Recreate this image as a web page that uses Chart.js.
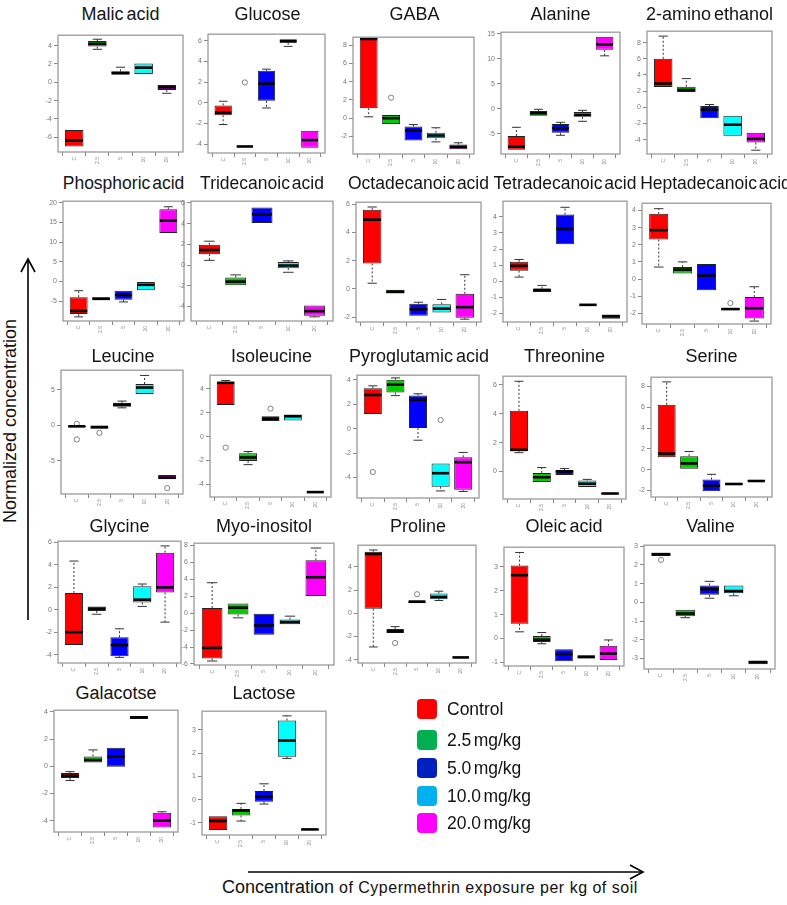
<!DOCTYPE html>
<html><head><meta charset="utf-8">
<script src="https://cdn.jsdelivr.net/npm/chart.js@4.4.1/dist/chart.umd.min.js"></script>
<style>
html,body{margin:0;padding:0;background:#fff;}
body{width:787px;height:905px;overflow:hidden;position:relative;font-family:"Liberation Sans",Arial,sans-serif;}
canvas{position:absolute;}
.t{position:absolute;font-size:18px;color:#151515;white-space:nowrap;transform:translate(-50%,-50%);word-spacing:-2px;line-height:1;}
.t.r2{font-size:17.5px;word-spacing:-3px;}
.lg{position:absolute;width:20px;height:20px;border-radius:4px;}
.lt{position:absolute;font-size:17.5px;color:#111;white-space:nowrap;line-height:20px;word-spacing:-2.5px;}
#ylab{position:absolute;left:10px;top:421px;font-size:18px;color:#111;white-space:nowrap;transform:translate(-50%,-50%) rotate(-90deg);}
#xlab{position:absolute;left:222px;top:877px;color:#111;white-space:nowrap;}
</style></head><body>
<svg width="787" height="905" style="position:absolute;left:0;top:0">
<g stroke="#000" stroke-width="1.6" fill="none">
<line x1="28" y1="620" x2="28" y2="259"/><polyline points="21,272 28,259 35,272"/>
<line x1="248" y1="872" x2="643" y2="872"/><polyline points="630,865 643,872 630,879"/>
</g></svg>
<script>
// ---- categories / groups ----
const categories = ['C', '2.5', '5', '10', '20'];
const groupNames = ['Control', '2.5 mg/kg', '5.0 mg/kg', '10.0 mg/kg', '20.0 mg/kg'];
const boxColors = ['#FF0000', '#00CD00', '#0000FF', '#00FFFF', '#FF00FF'];
const legendColors = ['#FF0000', '#00B050', '#0020C0', '#00B0F0', '#FF00FF'];

// ---- box statistics per group: [min, q1, median, q3, max] ----
const malicAcid = [[-7.1,-7.0,-6.35,-5.2,-5.1],[3.6,3.9,4.2,4.5,4.7],[0.8,0.85,1.0,1.2,1.65],[0.85,0.9,1.6,2.05,2.15],[-1.2,-0.85,-0.55,-0.3,-0.25]];
const glucose = [[-2.1,-1.2,-0.95,-0.25,0.15],[-4.25,-4.24,-4.22,-4.2,-4.19],[-0.5,0.2,1.85,3.1,3.25],[5.45,5.8,5.95,6.15,6.2],[-4.4,-4.35,-3.6,-2.7,-2.65]];
const gaba = [[0.15,1.1,8.7,8.8,8.85],[-0.7,-0.65,0,0.35,0.45],[-2.5,-2.45,-1.35,-0.9,-0.7],[-2.6,-2.2,-1.9,-1.6,-1.05],[-3.45,-3.4,-3.15,-2.9,-2.7]];
const alanine = [[-8.3,-8.2,-7.6,-5.45,-3.7],[-1.5,-1.4,-0.9,-0.45,-0.1],[-5.3,-4.8,-3.9,-3.05,-2.7],[-2.5,-1.6,-1.2,-0.65,-0.3],[10.6,11.8,12.9,14.4,14.55]];
const aminoEthanol = [[2.45,2.5,2.95,6.0,8.8],[1.85,1.9,2.15,2.55,3.55],[-1.45,-1.35,-0.3,0.15,0.35],[-3.6,-3.5,-2.15,-1.05,-0.95],[-5.3,-4.35,-3.9,-3.15,-3.05]];
const phosphoricAcid = [[-9,-8.3,-7.5,-4,-2.35],[-4.9,-4.8,-4.4,-4.0,-3.9],[-5.2,-4.65,-3.45,-2.35,-2.3],[-2.3,-2.2,-0.85,0,0.15],[12.3,12.35,15.45,18.35,19]];
const tridecanoicAcid = [[0.45,1.05,1.45,1.95,2.3],[-2.0,-1.95,-1.6,-1.2,-0.95],[4.0,4.05,4.9,5.55,5.6],[-0.7,-0.3,-0.05,0.3,0.4],[-5.0,-4.9,-4.45,-3.9,-3.85]];
const octadecanoicAcid = [[0.4,1.8,4.9,5.6,5.8],[-0.35,-0.33,-0.2,-0.07,-0.05],[-1.95,-1.9,-1.45,-1.05,-0.95],[-1.7,-1.68,-1.4,-1.1,-0.75],[-2.15,-2.05,-1.3,-0.35,1.0]];
const tetradecanoicAcid = [[0.25,0.65,0.95,1.2,1.35],[-0.7,-0.68,-0.55,-0.47,-0.27],[2.28,2.3,3.25,4.15,4.6],[-1.52,-1.5,-1.48,-1.46,-1.44],[-2.37,-2.35,-2.2,-2.08,-2.05]];
const heptadecanoicAcid = [[0.7,2.3,2.85,3.8,4.1],[0.3,0.32,0.55,0.7,1.0],[-0.7,-0.65,0.2,0.87,0.9],[-1.85,-1.8,-1.75,-1.7,-1.65],[-2.45,-2.3,-1.7,-1.05,-0.45]];
const leucine = [[-0.3,-0.25,-0.15,-0.1,-0.05],[-0.55,-0.5,-0.25,-0.05,0.0],[2.45,2.6,2.9,3.15,3.4],[4.35,4.4,5.3,5.8,7.0],[-7.65,-7.6,-7.35,-7.0,-6.95]];
const isoleucine = [[2.6,2.65,4.5,4.6,4.7],[-2.35,-2.05,-1.75,-1.4,-1.25],[1.25,1.3,1.5,1.7,1.75],[1.3,1.35,1.7,1.85,1.9],[-4.7,-4.68,-4.65,-4.62,-4.6]];
const pyroglutamicAcid = [[1.15,1.2,2.75,3.3,3.5],[2.7,2.95,3.6,4.0,4.15],[-0.95,0.05,2.35,2.7,2.85],[-5.1,-4.75,-3.65,-2.85,-2.85],[-5.15,-5.0,-2.75,-2.35,-1.95]];
const threonine = [[1.3,1.4,1.5,4.2,6.25],[-0.75,-0.74,-0.4,-0.1,0.27],[-0.27,-0.25,0,0.1,0.2],[-1.1,-1.08,-0.85,-0.63,-0.55],[-1.58,-1.56,-1.53,-1.5,-1.48]];
const serine = [[1.15,1.2,1.55,6.25,8.45],[0.05,0.1,0.6,1.3,1.75],[-2.1,-2.08,-1.55,-0.95,-0.45],[-1.5,-1.47,-1.38,-1.25,-1.2],[-1.17,-1.15,-1.09,-1.0,-0.98]];
const glycine = [[-3.2,-3.15,-2.0,1.5,4.35],[-0.4,-0.1,0.1,0.3,0.35],[-4.25,-4.15,-3.15,-2.45,-1.7],[0.3,0.65,0.9,2.1,2.3],[-1.1,1.55,2.0,5.1,5.7]];
const myoInositol = [[-5.65,-5.35,-4.1,0.6,3.6],[-0.55,-0.15,0.65,1.15,1.25],[-2.6,-2.55,-1.45,0,0.05],[-1.35,-1.3,-1.05,-0.75,-0.35],[2.0,2.02,4.25,6.25,7.7]];
const proline = [[-2.9,0.4,5.1,5.3,5.45],[-1.75,-1.7,-1.55,-1.35,-1.15],[0.85,0.86,1.0,1.1,1.15],[1.1,1.2,1.4,1.7,1.9],[-3.85,-3.83,-3.8,-3.78,-3.76]];
const oleicAcid = [[0.28,0.62,2.65,3.05,3.6],[-0.22,-0.15,-0.05,0.1,0.25],[-0.97,-0.95,-0.65,-0.45,-0.43],[-0.85,-0.84,-0.77,-0.7,-0.67],[-0.93,-0.9,-0.63,-0.3,-0.06]];
const valine = [[2.45,2.48,2.57,2.65,2.7],[-0.82,-0.74,-0.6,-0.4,-0.35],[0.22,0.4,0.7,0.9,1.12],[0.35,0.48,0.6,0.9,0.95],[-3.32,-3.3,-3.2,-3.1,-3.07]];
const galacotse = [[-1.05,-0.87,-0.7,-0.5,-0.4],[0.2,0.27,0.45,0.72,1.2],[-0.05,-0.04,0.7,1.35,1.4],[3.45,3.48,3.6,3.7,3.73],[-4.55,-4.5,-4.0,-3.43,-3.35]];
const lactose = [[-1.32,-1.31,-0.92,-0.71,-0.7],[-0.92,-0.68,-0.47,-0.4,-0.16],[-0.19,-0.09,0.13,0.37,0.68],[1.77,1.84,2.54,3.4,3.6],[-1.31,-1.3,-1.28,-1.26,-1.25]];

// ---- outliers: [group number, value] ----
const glucoseOut = [[2,1.97]];
const gabaOut = [[2,2.25]];
const heptadecanoicOut = [[4,-1.4]];
const leucineOut = [[1,0.21],[1,-1.99],[2,-1.07],[5,-8.84]];
const isoleucineOut = [[1,-0.93],[3,2.34]];
const pyroglutamicOut = [[1,-3.55],[4,0.7]];
const prolineOut = [[2,-2.56],[3,1.64]];
const valineOut = [[1,2.27]];

// ---- y tick labels ----
const ticksA = [-6,-4,-2,0,2,4];
const ticksB = [-4,-2,0,2,4,6];
const ticksC = [-2,0,2,4,6,8];
const ticksAlanine = [-5,0,5,10,15];
const ticksAmino = [-4,-2,0,2,4,6,8];
const ticksPhos = [-5,0,5,10,15,20];
const ticksOcta = [-2,0,2,4,6];
const ticksUnit = [-2,-1,0,1,2,3,4];
const ticksLeu = [-5,0,5];
const ticksFour = [-4,-2,0,2,4];
const ticksThr = [0,2,4,6];
const ticksMyo = [-6,-4,-2,0,2,4,6,8];
const ticksOleic = [-1,0,1,2,3];
const ticksValine = [-3,-2,-1,0,1,2,3];

// ---- y axis ranges ----
const yRanges = [[-7.6,5.14],[-4.85,6.63],[-3.93,8.89],[-9.04,15.33],[-5.77,9.41],
  [-10.05,20.41],[-5.4,6.16],[-2.35,6.14],[-2.55,4.98],[-2.62,4.42],
  [-9.66,7.74],[-5.06,5.14],[-5.68,4.37],[-1.91,6.6],[-2.63,8.9],
  [-4.75,6.12],[-6.12,8.27],[-4.28,5.86],[-1.15,3.82],[-3.56,3.05],
  [-4.84,4.12],[-1.52,3.8]];

const panels = [
  ['Malic acid', malicAcid, [], ticksA],
  ['Glucose', glucose, glucoseOut, ticksB],
  ['GABA', gaba, gabaOut, ticksC],
  ['Alanine', alanine, [], ticksAlanine],
  ['2-amino ethanol', aminoEthanol, [], ticksAmino],
  ['Phosphoric acid', phosphoricAcid, [], ticksPhos],
  ['Tridecanoic acid', tridecanoicAcid, [], ticksB],
  ['Octadecanoic acid', octadecanoicAcid, [], ticksOcta],
  ['Tetradecanoic acid', tetradecanoicAcid, [], ticksUnit],
  ['Heptadecanoic acid', heptadecanoicAcid, heptadecanoicOut, ticksUnit],
  ['Leucine', leucine, leucineOut, ticksLeu],
  ['Isoleucine', isoleucine, isoleucineOut, ticksFour],
  ['Pyroglutamic acid', pyroglutamicAcid, pyroglutamicOut, ticksFour],
  ['Threonine', threonine, [], ticksThr],
  ['Serine', serine, [], ticksC],
  ['Glycine', glycine, [], ticksB],
  ['Myo-inositol', myoInositol, [], ticksMyo],
  ['Proline', proline, prolineOut, ticksFour],
  ['Oleic acid', oleicAcid, [], ticksOleic],
  ['Valine', valine, valineOut, ticksValine],
  ['Galacotse', galacotse, [], ticksFour],
  ['Lactose', lactose, [], ticksOleic]
];

// ---- layout (plot frames in page pixels) ----
const frames = [
  [58,32,183,152],[208,31,327,153],[353,34,476,154],[501,29,620,154],[647,28,772,154],
  [63,198,184,321],[191,198,333,321],[356,199,481,322],[503,198,627,322],[642,200,773,324],
  [61,367,185,494],[210,372,333,497],[357,372,481,498],[503,373,626,499],[651,374,772,497],
  [58,538,181,663],[194,540,334,665],[358,542,478,663],[504,544,624,666],[644,542,777,669],
  [54,707,178,832],[202,708,326,835]
];
const titleRowY = [14,184,356,526,693];
const titleShift = {9: 8};

function boxPlugin(stats){
  return {
    id:'boxplot',
    afterDatasetsDraw(chart){
      const ctx = chart.ctx, a = chart.chartArea, ys = chart.scales.y;
      const meta = chart.getDatasetMeta(0);
      const py = v => ys.getPixelForValue(v);
      const seg = (x1,y1,x2,y2) => {ctx.beginPath();ctx.moveTo(x1,y1);ctx.lineTo(x2,y2);ctx.stroke();};
      ctx.save();
      stats.forEach((s,i) => {
        const bar = meta.data[i];
        const cx = bar.x, hw = bar.width/2;
        ctx.strokeStyle = '#333'; ctx.lineWidth = 1;
        ctx.setLineDash([2,2]);
        if (py(s[3]) - py(s[4]) > 1) seg(cx, py(s[3]), cx, py(s[4]));
        if (py(s[0]) - py(s[1]) > 1) seg(cx, py(s[1]), cx, py(s[0]));
        ctx.setLineDash([]);
        if (py(s[3]) - py(s[4]) > 1) seg(cx-hw/2, py(s[4]), cx+hw/2, py(s[4]));
        if (py(s[0]) - py(s[1]) > 1) seg(cx-hw/2, py(s[0]), cx+hw/2, py(s[0]));
        ctx.strokeStyle = '#000'; ctx.lineWidth = 2.6;
        seg(cx-hw+0.5, py(s[2]), cx+hw-0.5, py(s[2]));
      });
      ctx.strokeStyle = '#9a9a9a'; ctx.lineWidth = 1.3;
      ctx.strokeRect(a.left, a.top, a.right-a.left, a.bottom-a.top);
      ctx.restore();
    }
  };
}

const L = 24, T = 3, R = 3, B = 18;
panels.forEach((p, k) => {
  const [name, stats, outs, ticks] = p;
  const [x0,y0,x1,y1] = frames[k];
  const w = x1-x0+L+R, h = y1-y0+T+B;
  const c = document.createElement('canvas');
  c.width = w; c.height = h;
  c.style.left = (x0-L)+'px'; c.style.top = (y0-T)+'px';
  c.style.width = w+'px'; c.style.height = h+'px';
  document.body.appendChild(c);
  const t = document.createElement('div');
  t.className = 't' + (Math.floor(k/5) === 1 ? ' r2' : ''); t.textContent = name;
  t.style.left = ((x0+x1)/2 + (titleShift[k]||0))+'px';
  t.style.top = titleRowY[Math.floor(k/5)]+'px';
  document.body.appendChild(t);
  new Chart(c, {
    type: 'bar',
    data: { datasets: [
      { type:'bar', label:name, data: stats.map((s,i) => ({x:i+1, y:[s[1], s[3]]})),
        backgroundColor: boxColors, borderColor:'#222', borderWidth:1, borderSkipped:false,
        categoryPercentage:1, barPercentage:0.8, order:2 },
      { type:'line', label:'outliers', showLine:false, data: outs.map(o => ({x:o[0], y:o[1]})),
        pointRadius:2.6, pointBorderColor:'#808080', pointBackgroundColor:'rgba(0,0,0,0)',
        pointBorderWidth:1, order:1 }
    ]},
    options: {
      responsive:false, animation:false, devicePixelRatio:1,
      layout:{ padding:{ top:T, right:R, left:0, bottom:0 } },
      plugins:{ legend:{display:false}, tooltip:{enabled:false}, title:{display:false} },
      scales:{
        x:{ type:'linear', min:0.3, max:5.7, offset:false,
            afterBuildTicks: ax => { ax.ticks = categories.map((c,i) => ({value:i+1})); },
            afterFit: s => { s.height = B; },
            grid:{ drawOnChartArea:false, drawTicks:true, tickLength:4, color:'#888' },
            border:{ display:false },
            ticks:{ callback: v => categories[Math.round(v)-1], font:{size:5}, color:'#888',
                    maxRotation:90, minRotation:90, padding:1, autoSkip:false } },
        y:{ min:yRanges[k][0], max:yRanges[k][1],
            afterBuildTicks: ax => { ax.ticks = ticks.map(v => ({value:v})); },
            afterFit: s => { s.width = L; },
            grid:{ drawOnChartArea:false, drawTicks:true, tickLength:4, color:'#888' },
            border:{ display:false },
            ticks:{ font:{size:7}, color:'#777', padding:2, autoSkip:false } }
      }
    },
    plugins:[boxPlugin(stats)]
  });
});

// legend
const legendTops = [699,730,758,786,813];
groupNames.forEach((g,i) => {
  const sq = document.createElement('div');
  sq.className = 'lg'; sq.style.left = '417px'; sq.style.top = legendTops[i]+'px';
  sq.style.background = legendColors[i];
  document.body.appendChild(sq);
  const tx = document.createElement('div');
  tx.className = 'lt'; tx.style.left = '447px'; tx.style.top = legendTops[i]+'px';
  tx.textContent = g;
  document.body.appendChild(tx);
});
</script>
<div id="ylab">Normalized concentration</div>
<div id="xlab"><span style="font-size:18px">Concentration</span><span style="font-size:16px;letter-spacing:0.5px"> of Cypermethrin exposure per kg of soil</span></div>
</body></html>
